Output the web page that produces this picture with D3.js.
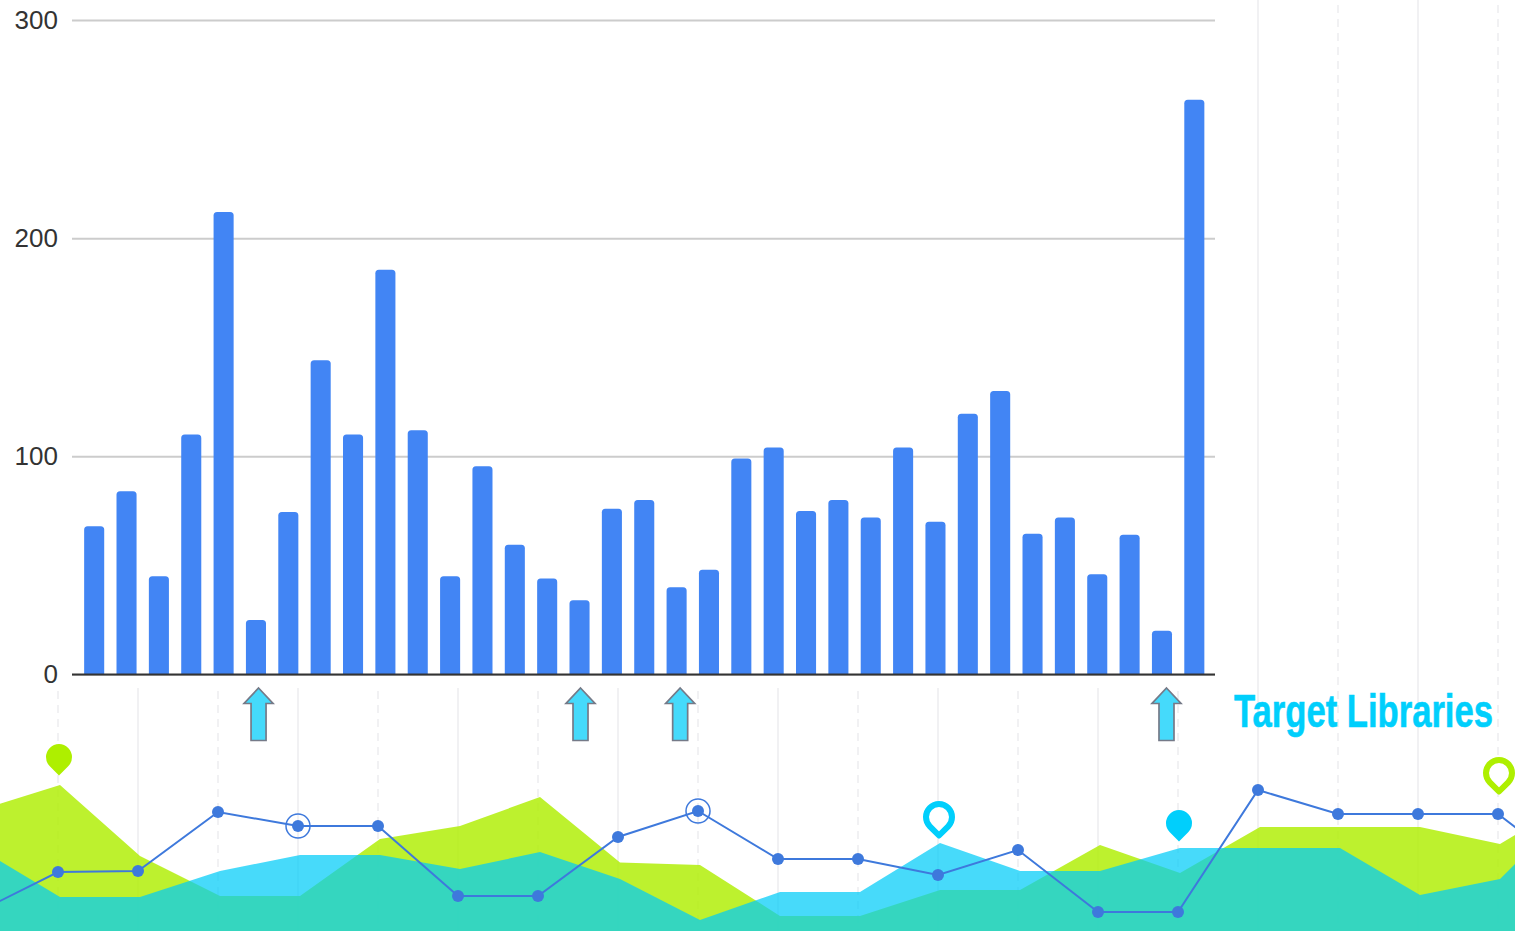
<!DOCTYPE html>
<html>
<head>
<meta charset="utf-8">
<script src="https://cdn.jsdelivr.net/npm/d3@7"></script>
<style>
  html, body { margin: 0; padding: 0; background: #fff; overflow: hidden; }
  svg { display: block; }
  .tick text { font-family: "Liberation Sans", Arial, sans-serif; font-size: 26px; fill: #333; }
</style>
</head>
<body>
<div id="chart"></div>
<script>
// Bar chart values, one bar per library
const barValues = [68, 84, 45, 110, 212, 25, 74.5, 144, 110, 185.5, 112, 45, 95.5, 59.5, 44, 34, 76, 80, 40, 48,
  99, 104, 75, 80, 72, 104, 70, 119.5, 130, 64.5, 72, 46, 64, 20, 263.5];
const barTicks = [0, 100, 200, 300];

// Bars that get an arrow underneath, read on the bar index axis
const arrowBars = [5.08, 15.03, 18.11, 33.14];

// Lower panel, values on a 0-100 scale. First and last entries run off the page
const lineValues = [7.6, 23.6, 24, 47.6, 42, 42, 14, 14, 37.6, 48, 28.8, 28.8, 22.4, 32.4, 7.6, 7.6, 56.4, 46.8, 46.8, 46.8, 22.4];
const greenValues = [48.4, 58.4, 30, 14, 14, 36.8, 42, 53.6, 27.4, 26.4, 6, 6, 16.4, 16.4, 34.4, 23.2, 41.6, 41.6, 41.6, 34.8, 54];
const blueValues = [32.8, 13.6, 13.6, 24, 30.4, 30.4, 24.8, 31.6, 20.8, 4.4, 15.6, 15.6, 35.2, 24, 24, 33.2, 33.2, 33.2, 14.4, 20.8, 52.8];
const ringedPoints = [4, 9];
const pins = [
  {at: 1, tip: 62.2, color: "#aeef00", hollow: false},
  {at: 12, tip: 38.2, color: "#00cffc", hollow: true},
  {at: 15, tip: 35.8, color: "#00cffc", hollow: false},
  {at: 19, tip: 55.8, color: "#aeef00", hollow: true}
];

const WIDTH = 1515, HEIGHT = 931;
const svg = d3.select("#chart").append("svg").attr("width", WIDTH).attr("height", HEIGHT);

// Lower panel scales
const xLow = d3.scaleLinear().domain([0, 20]).range([-22, 1578]);
const xArea = d3.scaleLinear().domain([0, 20]).range([-20, 1580]);
const yLow = d3.scaleLinear().domain([0, 100]).range([931, 681]);

// Faint grid, alternating dashed and solid
svg.append("g").selectAll("line").data(d3.range(1, 20)).enter().append("line")
  .attr("x1", d => xLow(d)).attr("x2", d => xLow(d))
  .attr("y1", d => d % 2 ? 5 : 0).attr("y2", HEIGHT)
  .attr("stroke", "#f1f1f3").attr("stroke-width", 2)
  .attr("stroke-dasharray", d => d % 2 ? "8,6" : null);

// The bar chart sits on a white card over the grid
svg.append("rect").attr("width", 1218).attr("height", 688).attr("fill", "#fff");

const area = vals => d3.area().x((d, i) => xArea(i)).y0(HEIGHT + 2).y1(d => yLow(d))(vals);
svg.append("path").attr("d", area(greenValues)).attr("fill", "#aeee00").attr("opacity", 0.82);
svg.append("path").attr("d", area(blueValues)).attr("fill", "#00ccf8").attr("opacity", 0.72);

// Blue line with dots
const line = d3.line().x((d, i) => xLow(i)).y(d => yLow(d));
svg.append("path").attr("d", line(lineValues)).attr("fill", "none")
  .attr("stroke", "#3e79dc").attr("stroke-width", 2);
svg.append("g").selectAll("circle").data(lineValues).enter().append("circle")
  .attr("cx", (d, i) => xLow(i)).attr("cy", d => yLow(d)).attr("r", 6).attr("fill", "#3e79dc");
svg.append("g").selectAll("circle").data(ringedPoints).enter().append("circle")
  .attr("cx", d => xLow(d)).attr("cy", d => yLow(lineValues[d]))
  .attr("r", 12).attr("fill", "none").attr("stroke", "#3e79dc").attr("stroke-width", 1.5);

// Map pins, tip at the origin
const PIN_R = 13;
const pinSide = PIN_R * Math.SQRT1_2;
const pinPath = `M0,0 L${-pinSide},${-pinSide} A${PIN_R},${PIN_R} 0 1 1 ${pinSide},${-pinSide} Z`;
svg.append("g").selectAll("path").data(pins).enter().append("path")
  .attr("transform", d => `translate(${xLow(d.at) + 1},${yLow(d.tip)})`)
  .attr("d", pinPath)
  .attr("fill", d => d.hollow ? "#fff" : d.color)
  .attr("stroke", d => d.hollow ? d.color : "none")
  .attr("stroke-width", 6)
  .attr("stroke-linejoin", "round");

// Bar chart
const x = d3.scaleBand().domain(d3.range(barValues.length)).range([78, 1210.5]).paddingInner(0.38).paddingOuter(0.19);
const y = d3.scaleLinear().domain([0, 300]).range([674.5, 20]);

const axis = svg.append("g").attr("transform", "translate(72,0)")
  .call(d3.axisLeft(y).tickValues(barTicks).tickSize(-1143).tickPadding(14).tickFormat(d3.format("d")));
axis.select(".domain").remove();
axis.selectAll(".tick line").attr("stroke", "#cccccc").attr("stroke-width", 2);

const radius = 3.5;
svg.append("g").selectAll("path").data(barValues).enter().append("path")
  .attr("fill", "#4285f4")
  .attr("d", (d, i) => {
    const l = x(i), r = x(i) + x.bandwidth(), t = y(d), b = y(0);
    return `M${l},${b}V${t + radius}Q${l},${t} ${l + radius},${t}H${r - radius}Q${r},${t} ${r},${t + radius}V${b}Z`;
  });

// Baseline drawn over the bars
svg.append("line").attr("x1", 72).attr("x2", 1215).attr("y1", y(0)).attr("y2", y(0))
  .attr("stroke", "#333").attr("stroke-width", 2);

// Arrows pointing up at the target bars
const barCentre = d3.scaleLinear().domain([0, barValues.length - 1])
  .range([x(0) + x.bandwidth() / 2, x(barValues.length - 1) + x.bandwidth() / 2]);
const arrow = "M0,688 L14.5,703.5 H7.5 V740.5 H-7.5 V703.5 H-14.5 Z";
svg.append("g").selectAll("path").data(arrowBars).enter().append("path")
  .attr("transform", d => `translate(${barCentre(d)},0)`)
  .attr("d", arrow)
  .attr("fill", "#45dafb").attr("stroke", "#757a88").attr("stroke-width", 1.7);

// Label squeezed to the reference width
const label = svg.append("text").text("Target Libraries")
  .attr("font-family", "'Liberation Sans Narrow', 'Liberation Sans', sans-serif")
  .attr("font-weight", "bold").attr("font-size", 47)
  .attr("stroke", "#00cffc").attr("stroke-width", 0.6)
  .attr("fill", "#00cffc");
const labelScale = 259 / label.node().getComputedTextLength();
label.attr("transform", `translate(1234,727) scale(${labelScale},1)`);
</script>
</body>
</html>
